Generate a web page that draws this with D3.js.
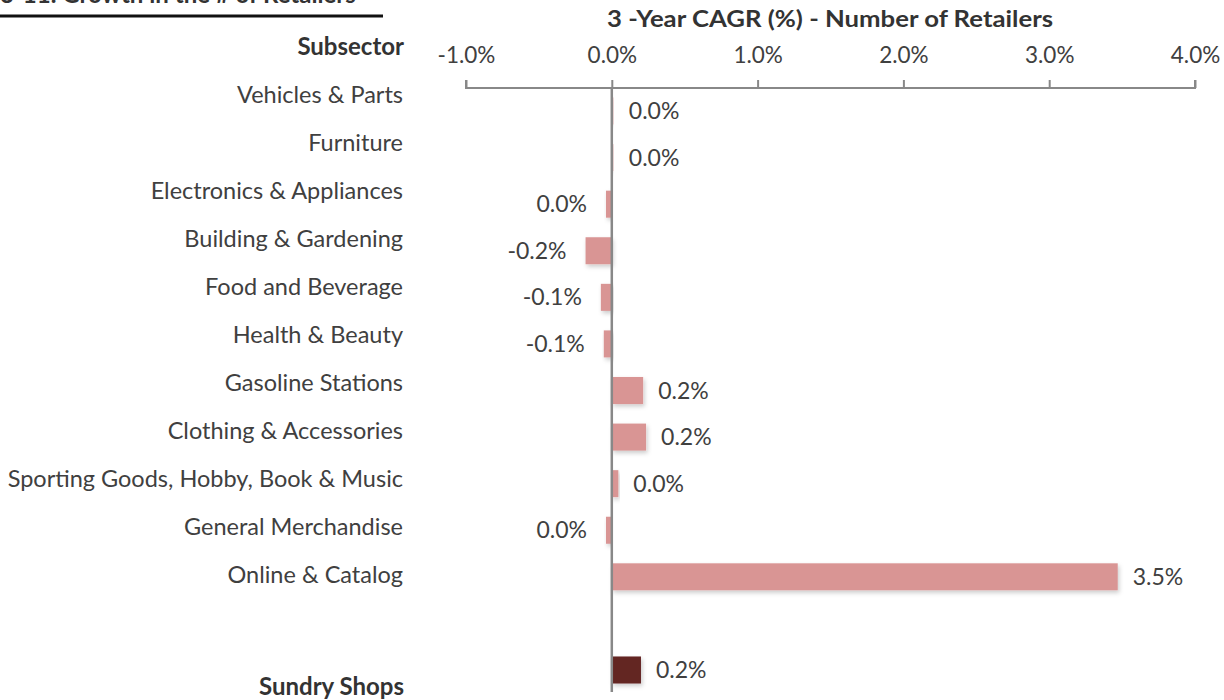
<!DOCTYPE html>
<html>
<head>
<meta charset="utf-8">
<script src="https://cdn.jsdelivr.net/npm/d3@7"></script>
<style>
  body { margin: 0; background: #fff; }
  text { font-family: Lato, "Open Sans", sans-serif; }
</style>
</head>
<body>
<div id="container"></div>
<script>
/**
 * CONSTANTS AND GLOBALS
 * */
const width = 1224,
  height = 700;

// DATA
const subsectors = [
  "Vehicles & Parts",
  "Furniture",
  "Electronics & Appliances",
  "Building & Gardening",
  "Food and Beverage",
  "Health & Beauty",
  "Gasoline Stations",
  "Clothing & Accessories",
  "Sporting Goods, Hobby, Book & Music",
  "General Merchandise",
  "Online & Catalog"
];
const cagr = [0.01, 0.01, -0.04, -0.18, -0.075, -0.055, 0.215, 0.235, 0.045, -0.04, 3.47];
const totalLabel = "Sundry Shops";
const totalCagr = 0.2;
const tickValues = [-1, 0, 1, 2, 3, 4];

const barColor = "#d99594",
  totalColor = "#632523",
  textColor = "#404040",
  axisColor = "#888888";

// rows: subsectors, an empty gap, then the total
const rows = subsectors.map((s, i) => ({ name: s, value: cagr[i], total: false }));
rows.push({ name: "__gap", value: null, total: false });
rows.push({ name: totalLabel, value: totalCagr, total: true });

let svg;

init();

function init() {
  const x = d3.scaleLinear().domain([-1, 4]).range([466, 1195]);

  const y = d3.scaleBand()
    .domain(rows.map(d => d.name))
    .range([88, 693])
    .paddingInner(0.42)
    .paddingOuter(0.204);

  // the left-hand labels sit on their own grid
  const labelY = d3.scalePoint()
    .domain(subsectors)
    .range([95, 575]);

  svg = d3.select("#container")
    .append("svg")
    .attr("width", width)
    .attr("height", height);

  const defs = svg.append("defs");
  const filter = defs.append("filter")
    .attr("id", "shadow")
    .attr("x", "-20%").attr("y", "-30%")
    .attr("width", "140%").attr("height", "170%");
  filter.append("feDropShadow")
    .attr("dx", 1.5).attr("dy", 2.5)
    .attr("stdDeviation", 2)
    .attr("flood-color", "#000")
    .attr("flood-opacity", 0.2);

  // cut-off heading & rule at top left
  svg.append("text")
    .attr("x", 0)
    .attr("y", 3)
    .attr("font-size", 24)
    .attr("font-weight", "bold")
    .attr("fill", "#333")
    .text("3-11. Growth in the # of Retailers");

  svg.append("line")
    .attr("x1", 0).attr("x2", 383)
    .attr("y1", 16).attr("y2", 16)
    .attr("stroke", "#111")
    .attr("stroke-width", 3);

  // axis title
  svg.append("text")
    .attr("x", 830)
    .attr("y", 27)
    .attr("text-anchor", "middle")
    .attr("font-size", 22)
    .attr("font-weight", "bold")
    .attr("fill", "#333")
    .attr("textLength", 446)
    .attr("lengthAdjust", "spacingAndGlyphs")
    .text("3 -Year CAGR (%) -  Number of Retailers");

  // column header
  svg.append("text")
    .attr("x", 404)
    .attr("y", 47)
    .attr("dy", "0.35em")
    .attr("text-anchor", "end")
    .attr("font-size", 24)
    .attr("font-weight", "bold")
    .attr("fill", "#333")
    .text("Subsector");

  // top axis
  const axis = svg.append("g")
    .attr("transform", "translate(0,88)")
    .call(d3.axisTop(x)
      .tickValues(tickValues)
      .tickSize(8)
      .tickPadding(17)
      .tickFormat(d => d.toFixed(1) + "%"));
  axis.select(".domain")
    .attr("d", `M${x(-1)},-8V0H${x(4)}V-8`)
    .attr("stroke", axisColor)
    .attr("stroke-width", 2);
  axis.selectAll(".tick line")
    .attr("stroke", axisColor)
    .attr("stroke-width", 2);
  axis.selectAll(".tick text")
    .attr("font-family", "Lato, sans-serif")
    .attr("font-size", 22.5)
    .attr("fill", textColor);

  // subsector labels
  svg.selectAll("text.cat")
    .data(subsectors)
    .join("text")
    .attr("class", "cat")
    .attr("x", 403)
    .attr("y", d => labelY(d))
    .attr("dy", "0.35em")
    .attr("text-anchor", "end")
    .attr("font-size", 23.5)
    .attr("fill", textColor)
    .text(d => d);

  svg.append("text")
    .attr("x", 404)
    .attr("y", 687)
    .attr("dy", "0.35em")
    .attr("text-anchor", "end")
    .attr("font-size", 24)
    .attr("font-weight", "bold")
    .attr("fill", "#333")
    .text(totalLabel);

  const barRows = rows.filter(d => d.value !== null);

  // bars
  svg.selectAll("rect.bar")
    .data(barRows)
    .join("rect")
    .attr("class", "bar")
    .attr("x", d => x(Math.min(0, d.value)))
    .attr("width", d => Math.max(1.5, Math.abs(x(d.value) - x(0))))
    .attr("y", d => y(d.name))
    .attr("height", y.bandwidth())
    .attr("fill", d => d.total ? totalColor : barColor)
    .attr("filter", "url(#shadow)");

  // zero line
  svg.append("line")
    .attr("x1", x(0)).attr("x2", x(0))
    .attr("y1", 88).attr("y2", 692)
    .attr("stroke", axisColor)
    .attr("stroke-width", 2.5);

  // value labels
  const fmt = v => (Math.round(v * 10) / 10).toFixed(1) + "%";
  svg.selectAll("text.val")
    .data(barRows)
    .join("text")
    .attr("class", "val")
    .attr("x", d => d.value >= 0
      ? Math.max(x(d.value), x(0) + 2) + 15
      : x(d.value) - 19)
    .attr("y", d => y(d.name) + y.bandwidth() / 2)
    .attr("dy", "0.35em")
    .attr("text-anchor", d => d.value >= 0 ? "start" : "end")
    .attr("font-size", 23)
    .attr("fill", textColor)
    .text(d => fmt(d.value));
}
</script>
</body>
</html>
